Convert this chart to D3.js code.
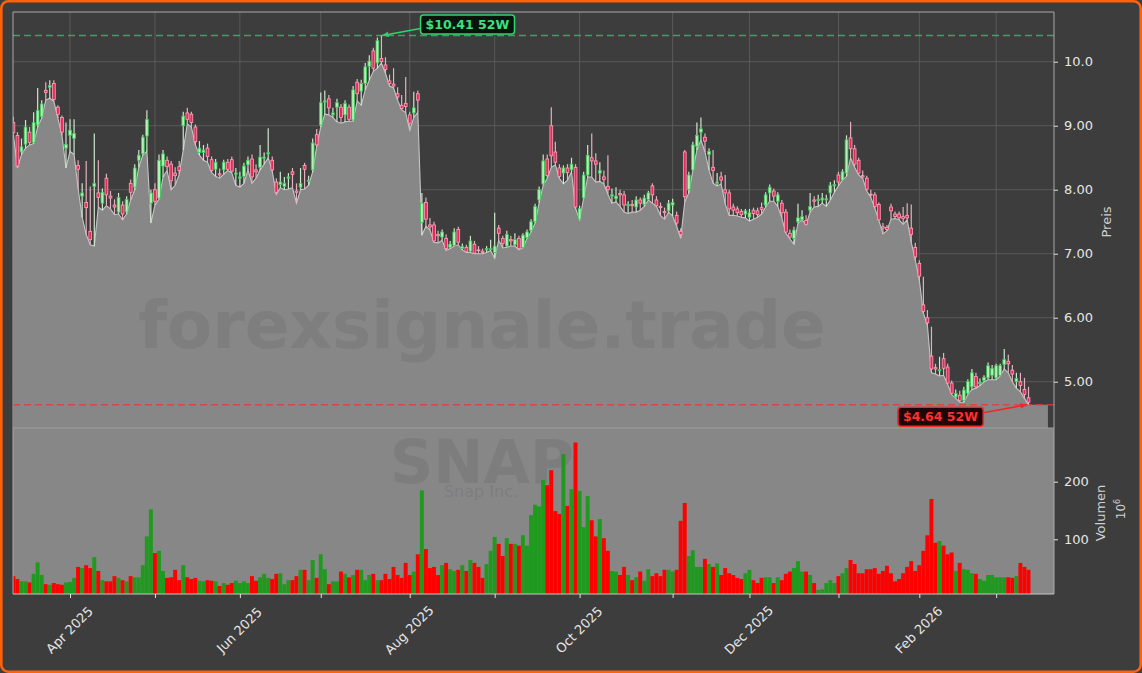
<!DOCTYPE html>
<html><head><meta charset="utf-8">
<script src="https://cdn.jsdelivr.net/npm/d3@7"></script>
<style>
html,body{margin:0;padding:0;background:#3d3d3d;overflow:hidden;}
svg{display:block;font-family:"DejaVu Sans",sans-serif;}
</style></head><body>
<svg id="chart" width="1142" height="673"></svg>
<script>
// ---- data: SNAP daily candles, 2025-03-12 .. 2026-03-12 (trading-day index) ----
const openP = [9.05,8.85,8.59,8.71,8.90,8.74,9.01,9.14,9.55,9.60,
9.66,9.29,9.13,8.65,8.85,8.80,8.38,7.90,7.80,7.35,
8.05,7.95,7.79,8.18,7.90,7.76,7.65,7.76,7.65,8.10,
8.04,8.46,8.56,8.84,7.79,8.00,7.87,8.37,8.46,8.40,
8.26,8.36,9.00,9.20,9.18,8.98,8.58,8.58,8.65,8.47,
8.32,8.25,8.31,8.43,8.47,8.24,8.18,8.21,8.39,8.48,
8.31,8.35,8.49,8.56,8.46,8.12,8.08,8.05,8.18,8.28,
7.98,8.04,8.38,8.13,8.31,8.86,9.01,9.37,9.42,9.17,
9.29,9.29,9.17,9.29,9.09,9.68,9.54,9.66,9.93,10.17,
9.98,10.05,9.95,9.70,9.65,9.50,9.32,9.35,9.17,9.20,
9.50,7.49,7.80,7.45,7.45,7.30,7.26,7.24,7.10,7.13,
7.38,7.08,7.10,7.04,7.15,7.06,7.04,7.06,7.07,7.02,
7.40,7.24,7.12,7.22,7.14,7.24,7.10,7.25,7.36,7.50,
7.84,8.09,8.48,9.00,8.59,8.34,8.26,8.34,8.31,8.35,
7.54,7.87,8.23,8.50,8.45,8.26,8.20,8.05,7.90,7.86,
7.94,7.92,7.75,7.77,7.73,7.84,7.77,7.85,8.06,7.84,
7.74,7.66,7.67,7.76,7.60,7.35,8.59,8.00,8.31,8.68,
8.90,8.82,8.55,8.35,8.10,8.20,8.00,7.95,7.73,7.70,
7.66,7.62,7.57,7.68,7.67,7.72,7.76,7.95,7.98,7.82,
7.79,7.65,7.32,7.24,7.50,7.53,7.52,7.68,7.84,7.83,
7.84,7.84,7.95,8.06,8.23,8.15,8.26,8.81,8.64,8.46,
8.22,8.18,7.93,7.92,7.77,7.42,7.41,7.73,7.62,7.62,
7.58,7.60,7.40,7.10,6.85,6.20,6.00,5.40,5.22,5.17,
5.36,5.23,4.98,4.76,4.79,4.71,4.82,4.92,5.08,4.97,
5.02,5.06,5.10,5.06,5.10,5.27,5.32,5.18,5.00,5.00,
4.88,4.75];
const highP = [9.14,8.90,8.80,9.09,8.98,9.21,9.59,9.40,9.68,9.71,
9.71,9.32,9.16,9.05,9.10,9.10,8.46,8.10,8.45,8.05,
8.88,8.46,8.02,8.25,7.98,7.85,7.95,7.82,7.90,8.16,
8.40,8.62,8.86,9.24,8.00,8.10,8.55,8.62,8.52,8.45,
8.35,8.45,9.22,9.28,9.22,9.02,8.76,8.70,8.72,8.52,
8.48,8.33,8.47,8.48,8.52,8.34,8.28,8.42,8.52,8.55,
8.40,8.70,8.58,8.96,8.52,8.18,8.28,8.20,8.26,8.34,
8.10,8.34,8.42,8.22,8.80,8.95,9.52,9.55,9.48,9.28,
9.42,9.34,9.40,9.33,9.62,9.73,9.72,9.98,10.10,10.22,
10.38,10.41,10.07,9.80,9.90,9.60,9.48,9.76,9.22,9.53,
9.55,7.95,7.88,7.56,7.50,7.36,7.38,7.30,7.20,7.40,
7.42,7.16,7.14,7.28,7.20,7.12,7.08,7.12,7.22,7.64,
7.45,7.28,7.36,7.28,7.32,7.28,7.32,7.38,7.54,7.78,
8.05,8.55,8.55,9.29,8.75,8.40,8.38,8.40,8.50,8.40,
7.75,8.28,8.70,8.88,8.57,8.43,8.30,8.54,8.02,8.04,
8.00,7.98,7.82,7.84,7.90,7.88,7.92,7.98,8.10,7.90,
7.80,7.72,7.84,7.86,7.66,7.40,8.62,8.28,8.75,9.05,
9.13,8.88,8.65,8.62,8.26,8.28,8.23,8.00,7.78,7.74,
7.70,7.70,7.70,7.72,7.72,7.80,7.96,8.08,8.02,7.96,
7.84,7.70,7.38,7.42,7.78,7.68,7.60,7.95,7.90,7.92,
7.95,7.92,8.12,8.15,8.28,8.32,8.85,9.06,8.70,8.50,
8.30,8.22,8.00,7.96,7.80,7.48,7.45,7.78,7.66,7.66,
7.73,7.79,7.77,7.17,6.90,6.64,6.12,5.86,5.28,5.39,
5.45,5.28,5.02,4.88,4.86,4.92,5.04,5.20,5.14,5.05,
5.10,5.30,5.26,5.28,5.28,5.51,5.42,5.26,5.14,5.14,
5.06,4.92];
const lowP = [8.86,8.34,8.55,8.65,8.70,8.72,8.98,9.12,9.40,9.43,
9.38,9.12,8.85,8.34,8.60,8.55,8.02,7.57,7.30,7.14,
7.12,7.73,7.68,7.75,7.70,7.61,7.62,7.53,7.62,7.84,
8.00,8.35,8.54,8.60,7.48,7.76,7.85,8.20,8.30,8.00,
8.07,8.24,8.62,9.03,8.98,8.70,8.54,8.46,8.43,8.27,
8.21,8.18,8.24,8.30,8.26,8.07,8.04,8.10,8.31,8.10,
8.18,8.31,8.40,8.50,8.29,7.93,8.03,8.00,8.01,8.03,
7.79,8.00,8.01,8.07,8.28,8.68,8.98,9.18,9.17,9.13,
9.06,9.04,9.06,9.07,9.07,9.39,9.32,9.56,9.71,9.85,
9.90,9.98,9.82,9.62,9.59,9.40,9.25,9.20,8.93,9.13,
9.21,7.29,7.43,7.37,7.18,7.17,7.21,7.05,7.08,7.12,
7.14,7.06,7.02,7.02,7.00,7.00,7.00,7.02,7.05,6.93,
7.21,7.09,7.10,7.12,7.12,7.06,7.09,7.24,7.34,7.48,
7.80,8.07,8.18,8.35,8.39,8.18,8.09,8.15,8.28,7.71,
7.53,7.87,8.20,8.20,8.12,8.13,8.09,7.93,7.79,7.81,
7.74,7.65,7.63,7.65,7.65,7.68,7.74,7.84,7.79,7.74,
7.60,7.54,7.65,7.59,7.43,7.24,7.81,7.95,8.30,8.62,
8.78,8.59,8.31,8.10,8.06,8.09,7.78,7.60,7.60,7.59,
7.57,7.56,7.51,7.54,7.57,7.62,7.73,7.82,7.82,7.74,
7.56,7.32,7.23,7.15,7.48,7.53,7.45,7.65,7.73,7.74,
7.79,7.74,7.84,7.96,8.06,8.15,8.21,8.50,8.35,8.23,
8.18,7.98,7.88,7.71,7.52,7.31,7.36,7.54,7.55,7.53,
7.46,7.53,7.18,6.90,6.59,6.07,5.88,5.14,5.12,5.09,
5.10,4.96,4.80,4.74,4.68,4.68,4.80,4.88,4.90,4.94,
5.00,5.03,5.03,5.03,5.09,5.20,5.14,5.00,4.90,4.84,
4.74,4.64];
const closeP = [8.89,8.37,8.67,8.98,8.74,9.05,9.24,9.34,9.52,9.63,
9.41,9.18,8.90,8.71,8.93,8.88,8.32,7.95,7.72,7.22,
8.10,7.88,7.96,7.92,7.87,7.73,7.88,7.62,7.85,7.96,
8.34,8.54,8.82,9.10,7.95,7.82,8.46,8.56,8.36,8.14,
8.22,8.30,9.15,9.10,9.05,8.75,8.65,8.62,8.52,8.30,
8.43,8.23,8.43,8.32,8.29,8.26,8.20,8.37,8.46,8.20,
8.28,8.51,8.51,8.58,8.31,7.96,8.12,8.10,8.20,8.24,
7.96,8.10,8.32,8.15,8.73,8.70,9.36,9.39,9.28,9.20,
9.36,9.13,9.35,9.10,9.56,9.50,9.66,9.92,10.01,9.90,
10.33,10.00,9.88,9.66,9.62,9.45,9.27,9.30,9.04,9.28,
9.40,7.79,7.54,7.42,7.20,7.28,7.34,7.08,7.15,7.34,
7.18,7.11,7.03,7.20,7.01,7.05,7.02,7.08,7.08,7.12,
7.32,7.16,7.30,7.20,7.22,7.08,7.29,7.34,7.50,7.74,
8.00,8.45,8.22,8.53,8.43,8.21,8.34,8.27,8.40,7.73,
7.71,8.23,8.54,8.45,8.40,8.30,8.16,8.00,7.92,7.90,
7.92,7.76,7.77,7.75,7.84,7.79,7.87,7.95,7.92,7.75,
7.72,7.64,7.79,7.80,7.48,7.30,7.89,8.23,8.70,8.85,
8.95,8.76,8.60,8.30,8.12,8.15,7.95,7.70,7.68,7.64,
7.61,7.67,7.64,7.63,7.61,7.69,7.92,8.04,7.90,7.92,
7.64,7.34,7.26,7.37,7.56,7.58,7.46,7.74,7.82,7.85,
7.87,7.86,8.07,8.08,8.12,8.28,8.78,8.64,8.40,8.26,
8.20,8.01,7.92,7.74,7.53,7.40,7.38,7.67,7.58,7.56,
7.55,7.56,7.30,6.95,6.65,6.10,5.92,5.20,5.20,5.19,
5.21,4.98,4.82,4.82,4.71,4.87,5.00,5.14,4.92,4.99,
5.07,5.25,5.21,5.25,5.25,5.35,5.28,5.12,5.05,4.94,
4.80,4.68];
const volumeM = [36,31,27,27,25,40,60,38,22,21,
24,22,21,25,26,33,52,50,55,50,
69,45,29,27,27,36,33,29,27,36,
34,34,55,105,152,76,80,45,33,34,
47,29,55,34,31,33,28,27,29,28,
27,19,24,21,24,28,24,27,24,36,
28,34,40,33,31,40,41,22,29,29,
36,47,47,29,64,33,74,48,22,27,
27,44,40,34,38,47,47,29,38,40,
29,29,40,31,52,38,33,59,38,44,
74,185,83,50,52,38,55,59,48,45,
47,55,45,64,59,52,33,57,80,104,
92,71,102,92,92,89,107,89,142,160,
157,203,194,220,149,144,248,158,187,268,
184,121,175,133,105,135,102,80,45,44,
38,52,38,29,34,44,28,48,36,41,
36,47,47,44,47,132,163,71,81,52,
52,66,57,52,58,38,50,41,38,33,
31,41,47,29,24,33,34,34,24,34,
29,40,44,50,62,44,44,38,24,12,
13,24,29,24,36,41,50,64,57,41,
41,48,48,50,40,45,54,41,27,31,
41,52,62,45,55,80,107,170,94,97,
89,74,77,45,59,48,47,41,40,31,
28,38,38,34,34,34,34,33,36,59,
52,47];
// month ticks (trading-day index of first session of each month)
const monthTickIndex = [14,35,56,76,98,119,140,163,182,204,224,243];
const monthTickLabel = ["Apr 2025","","Jun 2025","","Aug 2025","","Oct 2025","","Dec 2025","","Feb 2026",""];
const priceTicks = [5,6,7,8,9,10];
const priceTickLabels = ["5.00","6.00","7.00","8.00","9.00","10.0"];
const volumeTicks = [100,200];
const volumeTickLabels = ["100","200"];

// ---- layout ----
const W = 1142, H = 673;
const L = 13, R = 1054, T = 12, PB = 428, VB = 594;
const N = closeP.length;
const svg = d3.select("#chart");

const x = d3.scaleLinear().domain([-0.1, 257.3]).range([L, R]);
const y = d3.scaleLinear().domain([4.277, 10.777]).range([PB, T]);
const yv = d3.scaleLinear().domain([5, 293.2]).range([VB, PB]);
const step = x(1) - x(0);

// background + border
svg.append("rect").attr("x",1.3).attr("y",1.3).attr("width",W-2.6).attr("height",H-2.6)
  .attr("rx",7).attr("fill","#3d3d3d").attr("stroke","#ff6208").attr("stroke-width",2.6);

const defs = svg.append("defs");
defs.append("clipPath").attr("id","pclip").append("rect")
  .attr("x",L).attr("y",T).attr("width",R-L).attr("height",PB-T);
defs.append("clipPath").attr("id","vclip").append("rect")
  .attr("x",L).attr("y",PB).attr("width",R-L).attr("height",VB-PB);
function marker(id,color){
  defs.append("marker").attr("id",id).attr("viewBox","0 0 10 10").attr("refX",9).attr("refY",5)
    .attr("markerWidth",7).attr("markerHeight",7).attr("orient","auto-start-reverse")
    .attr("markerUnits","userSpaceOnUse")
    .append("path").attr("d","M0,1 L10,5 L0,9 z").attr("fill",color);
}
marker("arrG","#2fd36e"); marker("arrR","#f02828");

// ---- price panel ----
const pg = svg.append("g").attr("clip-path","url(#pclip)");
// grid
pg.selectAll(".vg").data(monthTickIndex).enter().append("line")
  .attr("x1",d=>x(d)).attr("x2",d=>x(d)).attr("y1",T).attr("y2",PB)
  .attr("stroke","#5d5d5d").attr("stroke-width",0.9);
pg.selectAll(".hg").data(priceTicks).enter().append("line")
  .attr("x1",L).attr("x2",R).attr("y1",d=>y(d)).attr("y2",d=>y(d))
  .attr("stroke","#5d5d5d").attr("stroke-width",0.9);

// area under the lows
const areaPts = d3.range(N).map(i=>[i,lowP[i]]);
areaPts.push([N-1+4.8, lowP[N-1]]);
pg.append("path").datum(areaPts)
  .attr("d", d3.area().x(d=>x(d[0])).y0(PB).y1(d=>y(d[1])))
  .attr("fill","#878787");
pg.append("path").datum(areaPts.slice(0,N))
  .attr("d", d3.line().x(d=>x(d[0])).y(d=>y(d[1])))
  .attr("fill","none").attr("stroke","#c6c6c6").attr("stroke-width",1.1);

// watermark
pg.append("text").attr("x",482).attr("y",348).attr("text-anchor","middle")
  .attr("font-size",66).attr("font-weight","bold").attr("fill","#5a5a5a").attr("fill-opacity",0.2)
  .text("forexsignale.trade");

// 52W lines
const hiIdx = d3.maxIndex(highP), loIdx = d3.minIndex(lowP);
const hiVal = highP[hiIdx], loVal = lowP[loIdx];
pg.append("line").attr("x1",L).attr("x2",R).attr("y1",y(hiVal)).attr("y2",y(hiVal))
  .attr("stroke","#2ecc71").attr("stroke-opacity",0.75).attr("stroke-width",1.5).attr("stroke-dasharray","7,4");
pg.append("line").attr("x1",L).attr("x2",R).attr("y1",y(loVal)).attr("y2",y(loVal))
  .attr("stroke","#e53935").attr("stroke-opacity",0.8).attr("stroke-width",1.5).attr("stroke-dasharray","7,4");

// candles
const cg = pg.append("g");
const idx = d3.range(N);
cg.selectAll(".wick").data(idx).enter().append("line")
  .attr("x1",i=>x(i)).attr("x2",i=>x(i)).attr("y1",i=>y(highP[i])).attr("y2",i=>y(lowP[i]))
  .attr("stroke",i=>closeP[i]>=openP[i]?"#cde6cd":"#e3b1bf").attr("stroke-width",1.2);
cg.selectAll(".body").data(idx).enter().append("rect")
  .attr("x",i=>x(i)-1.4).attr("width",2.8)
  .attr("y",i=>y(Math.max(openP[i],closeP[i])))
  .attr("height",i=>Math.max(0.9, Math.abs(y(openP[i])-y(closeP[i]))))
  .attr("fill",i=>closeP[i]>=openP[i]?"#b6eeb6":"#e52a5c")
  .attr("stroke",i=>closeP[i]>=openP[i]?"#36c956":"#ffa3b8").attr("stroke-width",0.8);

// ---- volume panel ----
svg.append("rect").attr("x",L).attr("y",PB).attr("width",R-L).attr("height",VB-PB).attr("fill","#878787");
const vg = svg.append("g").attr("clip-path","url(#vclip)");
vg.append("text").attr("x",482).attr("y",483).attr("text-anchor","middle")
  .attr("font-size",60).attr("font-weight","bold").attr("fill","#5a5a5a").attr("fill-opacity",0.22).text("SNAP");
vg.append("text").attr("x",481).attr("y",497).attr("text-anchor","middle")
  .attr("font-size",16).attr("fill","#5a5a5a").attr("fill-opacity",0.22).text("Snap Inc.");
vg.selectAll(".vb").data(idx).enter().append("rect")
  .attr("x",i=>x(i)-step/2).attr("width",step*0.98)
  .attr("y",i=>yv(volumeM[i])).attr("height",i=>VB-yv(volumeM[i]))
  .attr("fill",i=>closeP[i]>=openP[i]?"#1f9a1f":"#fe0000");

// ---- frames ----
const fc = "#a9a9a9";
svg.append("line").attr("x1",L).attr("x2",R).attr("y1",T).attr("y2",T).attr("stroke",fc).attr("stroke-width",1);
svg.append("line").attr("x1",L).attr("x2",L).attr("y1",T).attr("y2",VB).attr("stroke",fc).attr("stroke-width",1);
svg.append("line").attr("x1",R).attr("x2",R).attr("y1",T).attr("y2",VB).attr("stroke",fc).attr("stroke-width",1);
svg.append("line").attr("x1",L).attr("x2",R).attr("y1",PB).attr("y2",PB).attr("stroke","#9e9e9e").attr("stroke-width",1.2);
svg.append("line").attr("x1",L).attr("x2",R).attr("y1",VB).attr("y2",VB).attr("stroke","#c8c8c8").attr("stroke-width",1.2);

// ---- axes ----
function styleAxis(g){
  g.select(".domain").remove();
  g.selectAll(".tick line").attr("stroke","#e0e0e0").attr("stroke-width",1);
  g.selectAll(".tick text").attr("fill","#e6e6e6").attr("font-size",13).attr("font-family","DejaVu Sans");
}
const ay = svg.append("g").attr("transform",`translate(${R},0)`)
  .call(d3.axisRight(y).tickValues(priceTicks).tickSize(4).tickPadding(6)
    .tickFormat((d,i)=>priceTickLabels[i]));
styleAxis(ay);
const av = svg.append("g").attr("transform",`translate(${R},0)`)
  .call(d3.axisRight(yv).tickValues(volumeTicks).tickSize(4).tickPadding(6)
    .tickFormat((d,i)=>volumeTickLabels[i]));
styleAxis(av);
const ax = svg.append("g").attr("transform",`translate(0,${VB})`)
  .call(d3.axisBottom(x).tickValues(monthTickIndex).tickSize(4)
    .tickFormat((d,i)=>monthTickLabel[i]));
styleAxis(ax);
ax.selectAll(".tick text").attr("y",0).attr("dy",null).attr("text-anchor","middle")
  .attr("dominant-baseline","central").attr("transform","translate(-1,36) rotate(-45)");

// axis labels
svg.append("text").attr("transform","translate(1111,222) rotate(-90)").attr("text-anchor","middle")
  .attr("font-size",13).attr("fill","#d0d0d0").text("Preis");
svg.append("text").attr("transform","translate(1105,513) rotate(-90)").attr("text-anchor","middle")
  .attr("font-size",13).attr("fill","#d0d0d0").text("Volumen");
const t6 = svg.append("text").attr("transform","translate(1125,509) rotate(-90)").attr("text-anchor","middle")
  .attr("font-size",12).attr("fill","#d0d0d0");
t6.append("tspan").text("10");
t6.append("tspan").attr("font-size",8).attr("dy",-5).text("6");

// ---- 52W annotations ----
function annotate(idx, val, dx, dy, color, bg, border, marker, txt){
  const px = x(idx), py = y(val);
  const cx = px + dx, cy = py + dy;
  const g = svg.append("g");
  const t = g.append("text").attr("x",cx).attr("y",cy).attr("text-anchor","middle")
    .attr("dominant-baseline","central").attr("font-size",12.5).attr("font-weight","bold")
    .attr("fill",color).text(txt);
  const bb = t.node().getBBox();
  g.insert("rect","text").attr("x",bb.x-5).attr("y",cy-9.5).attr("width",bb.width+10).attr("height",19)
    .attr("rx",3).attr("fill",bg).attr("stroke",border).attr("stroke-width",1.6);
  const sx = dx>0 ? bb.x-5 : bb.x+bb.width+5;
  const sy = cy + (dy<0 ? 4 : -4);
  g.append("line").attr("x1",sx).attr("y1",sy).attr("x2",px+(dx>0?1:-2)).attr("y2",py)
    .attr("stroke",border).attr("stroke-width",1.6).attr("marker-end",`url(#${marker})`);
}
annotate(hiIdx, hiVal, 86, -11, "#3ee07f", "#06140b", "#2fd36e", "arrG", `$${hiVal.toFixed(2)} 52W`);
annotate(loIdx, loVal, -88, 12, "#ff3030", "#1c0606", "#f02828", "arrR", `$${loVal.toFixed(2)} 52W`);
</script>
</body></html>
